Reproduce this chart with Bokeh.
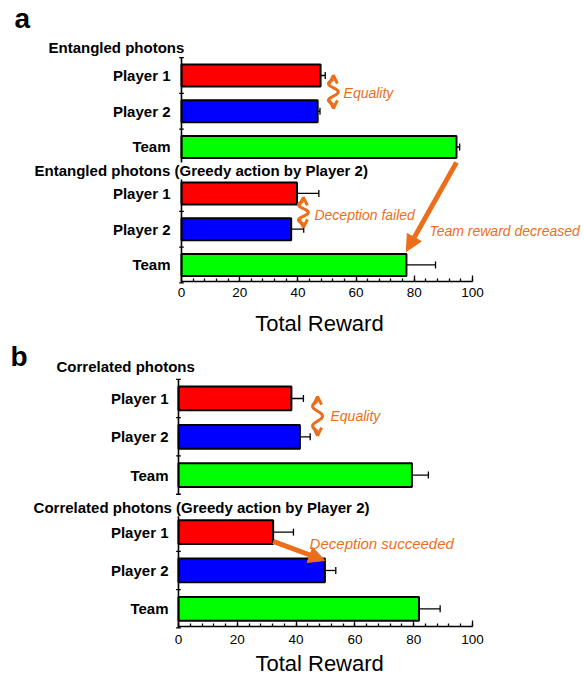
import numpy as np
from bokeh.plotting import figure
from bokeh.models import (Range1d, FixedTicker, ColumnDataSource, Whisker, TeeHead,
                          Label, LabelSet, Arrow, NormalHead, OpenHead)
from bokeh.core.properties import value
from bokeh.layouts import column
from bokeh.embed import file_html
from bokeh.resources import INLINE

# ---------------- data ----------------
categories = ["Player 1", "Player 2", "Team"]
bar_colors = ["#FF0000", "#0000FF", "#00FF00"]
x_ticks = [0, 20, 40, 60, 80, 100]

ent_values = [47.8, 46.8, 94.5]
ent_lower = [46.3, 45.0, 93.5]
ent_upper = [49.4, 47.6, 95.6]
ent_greedy_values = [39.7, 37.7, 77.3]
ent_greedy_lower = [34.0, 32.8, 71.0]
ent_greedy_upper = [47.2, 42.0, 87.3]

cor_values = [38.4, 41.3, 79.4]
cor_lower = [33.4, 35.1, 72.0]
cor_upper = [42.5, 44.8, 85.0]
cor_greedy_values = [32.2, 49.8, 81.8]
cor_greedy_lower = [25.0, 45.6, 74.8]
cor_greedy_upper = [39.1, 53.5, 89.0]

ORANGE = "#EC6E1A"
FONT = "Liberation Sans"


def squiggle(p, cx, y0, y1, amp):
    t = np.linspace(0, 1, 60)
    xs = cx - amp * np.sin(3 * np.pi * t)
    ys = y0 + (y1 - y0) * (0.12 + 0.76 * t)
    p.line(xs, ys, line_color=ORANGE, line_width=3)
    dy = (y1 - y0) * 0.12
    for ys_, ye_ in [(y0 + dy, y0), (y1 - dy, y1)]:
        p.add_layout(Arrow(x_start=cx, y_start=ys_, x_end=cx, y_end=ye_,
                           line_color=ORANGE, line_width=3,
                           end=OpenHead(size=8, line_color=ORANGE, line_width=3)))


def make_panel(letter, title1, title2, groups, gap, xr, yr, axis_y, height,
               label_off, tick_standoff, pos):
    p = figure(width=584, height=height, x_range=Range1d(xr[0], xr[1]),
               y_range=Range1d(yr[0], yr[1]), output_backend="svg",
               toolbar_location=None, title=None,
               min_border_top=0, min_border_bottom=0,
               min_border_left=0, min_border_right=0)
    p.outline_line_color = None
    p.xgrid.visible = False
    p.ygrid.visible = False
    p.yaxis.visible = False

    for gi, (vals, lo, hi) in enumerate(groups):
        off = 0 if gi == 0 else gap
        rows = [off + i for i in range(len(categories))]
        src = ColumnDataSource(dict(y=rows, right=vals, lo=lo, hi=hi,
                                    color=bar_colors, name=categories))
        p.hbar(y="y", left=0, right="right", height=0.62, source=src,
               fill_color="color", line_color="black", line_width=2)
        p.add_layout(Whisker(source=src, base="y", lower="lo", upper="hi",
                             dimension="width", line_color="black", line_width=1.3,
                             upper_head=TeeHead(size=7, line_color="black", line_width=1.3),
                             lower_head=TeeHead(size=7, line_color="black", line_width=1.3)))
        # broken y-axis segment with boundary ticks
        p.segment(x0=0, y0=off - 0.5, x1=0, y1=off + len(categories) - 0.5,
                  line_color="black", line_width=1.6)
        bnds = [off - 0.5 + k for k in range(len(categories) + 1)]
        p.segment(x0=[-0.8] * len(bnds), y0=bnds, x1=[0.8] * len(bnds), y1=bnds,
                  line_color="black", line_width=1.3)
        p.add_layout(LabelSet(source=ColumnDataSource(dict(y=rows, x=[0] * 3, t=categories)),
                              x="x", y="y", text="t", x_offset=label_off,
                              text_align="right", text_baseline="middle",
                              text_font=value(FONT), text_font_style="bold",
                              text_font_size="15px", text_color="black"))

    ax = p.xaxis[0]
    ax.fixed_location = axis_y
    ax.bounds = (0, 100)
    ax.ticker = FixedTicker(ticks=x_ticks, minor_ticks=list(range(0, 101, 4)))
    ax.major_tick_in = 6
    ax.major_tick_out = 0
    ax.minor_tick_in = 3
    ax.minor_tick_out = 0
    ax.axis_line_width = 1.6
    ax.axis_line_color = "black"
    ax.major_tick_line_width = 1.3
    ax.minor_tick_line_width = 1.3
    ax.major_label_text_font = FONT
    ax.major_label_text_font_size = "13.5px"
    ax.major_label_text_color = "black"
    ax.major_label_standoff = tick_standoff

    p.add_layout(Label(x=pos["xl"][0], y=pos["xl"][1], text="Total Reward",
                       text_font=FONT, text_font_size="22px", text_align="center",
                       text_baseline="middle", text_color="black"))
    p.add_layout(Label(x=pos["letter"][0], y=pos["letter"][1], text=letter,
                       text_font=FONT, text_font_style="bold", text_font_size="28px",
                       text_baseline="middle", text_color="black"))
    for key, txt in (("t1", title1), ("t2", title2)):
        p.add_layout(Label(x=pos[key][0], y=pos[key][1], text=txt,
                           text_font=FONT, text_font_style="bold", text_font_size="15px",
                           text_baseline="middle", text_color="black",
                           background_fill_color="white"))
    for (tx, ty, txt, fs) in pos["notes"]:
        p.add_layout(Label(x=tx, y=ty, text=txt, text_font=FONT,
                           text_font_style="italic", text_font_size=fs,
                           text_baseline="middle", text_color=ORANGE))
    return p


# ---------------- panel a ----------------
gap_a = 3.30
pa = make_panel(
    "a", "Entangled photons", "Entangled photons (Greedy action by Player 2)",
    [(ent_values, ent_lower, ent_upper),
     (ent_greedy_values, ent_greedy_lower, ent_greedy_upper)],
    gap_a, (-62.2, 138.5), (7.413, -2.098), 5.762, 340, -11, 7,
    dict(letter=(-57.4, -1.594), t1=(-45.7, -0.778), t2=(-50.5, 2.671), xl=(47.4, 6.94),
         notes=[(55.7, 0.48, "Equality", "14px"), (45.7, 3.89, "Deception failed", "14px"),
                (85.2, 4.34, "Team reward decreased", "14px")]))
squiggle(pa, 52.2, 0.0, 0.92, 1.7)
squiggle(pa, 41.9, 3.41, 4.25, 1.7)
pa.add_layout(Arrow(x_start=ent_values[2], y_start=2 + 0.43,
                    x_end=ent_greedy_values[2], y_end=gap_a + 2 - 0.38,
                    line_color=ORANGE, line_width=5,
                    end=NormalHead(size=16, fill_color=ORANGE, line_color=ORANGE)))

# ---------------- panel b ----------------
gap_b = 3.49
pb = make_panel(
    "b", "Correlated photons", "Correlated photons (Greedy action by Player 2)",
    [(cor_values, cor_lower, cor_upper),
     (cor_greedy_values, cor_greedy_lower, cor_greedy_upper)],
    gap_b, (-60.54, 138.1), (7.258, -1.514), 5.953, 336, -10, 8,
    dict(letter=(-57.1, -1.097), t1=(-41.5, -0.836), t2=(-49.3, 2.855), xl=(48.0, 6.92),
         notes=[(51.7, 0.47, "Equality", "14px"),
                (44.6, 3.78, "Deception succeeded", "15px")]))
squiggle(pb, 47.3, -0.05, 0.97, 1.7)
pb.add_layout(Arrow(x_start=cor_greedy_values[0], y_start=gap_b + 0.24,
                    x_end=cor_greedy_values[1], y_end=gap_b + 1 - 0.26,
                    line_color=ORANGE, line_width=5,
                    end=NormalHead(size=16, fill_color=ORANGE, line_color=ORANGE)))

layout = column(pa, pb)
open("out.html", "w").write(file_html(layout, INLINE))
